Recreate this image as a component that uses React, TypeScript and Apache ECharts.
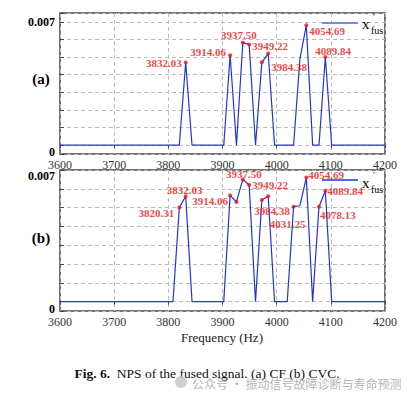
import React, { useEffect, useRef } from "react";
import * as echarts from "echarts";

// (a) CF
const freqA = [3600, 3820.31, 3832.03, 3843.75, 3902.34, 3914.06, 3925.78, 3937.5, 3949.22, 3960.94, 3972.66, 3984.38, 3996.09, 4031.25, 4042.97, 4054.69, 4066.41, 4078.13, 4089.84, 4101.56, 4200];
const npsA = [0, 0, 0.00469, 0, 0, 0.0051, 0, 0.00582, 0.00571, 0, 0.0047, 0.0052, 0, 0, 0.0049, 0.0068, 0, 0, 0.005, 0, 0];
const markedA = [3832.03, 3914.06, 3937.5, 3949.22, 3972.66, 3984.38, 4054.69, 4089.84];
const labeledA = [3832.03, 3914.06, 3937.5, 3949.22, 3984.38, 4054.69, 4089.84];

// (b) CVC
const freqB = [3600, 3808.59, 3820.31, 3832.03, 3843.75, 3902.34, 3914.06, 3925.78, 3937.5, 3949.22, 3960.94, 3972.66, 3984.38, 3996.09, 4019.53, 4031.25, 4042.97, 4054.69, 4066.41, 4078.13, 4089.84, 4101.56, 4200];
const npsB = [0, 0, 0.005, 0.0056, 0, 0, 0.00565, 0.0053, 0.0065, 0.0062, 0, 0.0054, 0.0056, 0, 0, 0.00505, 0.0051, 0.0066, 0, 0.00505, 0.0059, 0, 0];
const markedB = [3820.31, 3832.03, 3914.06, 3925.78, 3937.5, 3949.22, 3972.66, 3984.38, 4031.25, 4054.69, 4078.13, 4089.84];
const labeledB = [3820.31, 3832.03, 3914.06, 3937.5, 3949.22, 3984.38, 4031.25, 4054.69, 4078.13, 4089.84];

const yTopLabel = "0.007";
const yZeroLabel = "0";
const legendText = "x";
const caption = "NPS of the fused signal. (a) CF (b) CVC.";

// label layout (offset of text anchor from point, px) — styling only
const layoutA: Record<string, [number, number, string]> = {
  "3832.03": [-4, 0, "right"],
  "3914.06": [-4, -3, "right"],
  "3937.5": [-4, -8, "center"],
  "3949.22": [3, 1, "left"],
  "3984.38": [3, 13, "left"],
  "4054.69": [3, 6, "left"],
  "4089.84": [-10, -6, "left"],
};
const layoutB: Record<string, [number, number, string]> = {
  "3820.31": [-5, 5, "right"],
  "3832.03": [-1, -6, "center"],
  "3914.06": [-2, 6, "right"],
  "3937.5": [1, -5, "center"],
  "3949.22": [3, 0, "left"],
  "3984.38": [4, 15, "center"],
  "4031.25": [-6, 17, "center"],
  "4054.69": [2, -3, "left"],
  "4078.13": [1, 8, "left"],
  "4089.84": [2, 0, "left"],
};

const SERIF = "'Liberation Serif', 'DejaVu Serif', serif";
const BLUE = "#2233dd";
const RED = "#ee1111";

function pointsFor(freq: number[], nps: number[], marked: number[], labeled: number[], layout: Record<string, [number, number, string]>) {
  return marked.map((f) => {
    const i = freq.indexOf(f);
    const lay = layout[String(f)];
    const item: any = { value: [f, nps[i]] };
    if (labeled.indexOf(f) >= 0 && lay) {
      item.label = {
        show: true,
        position: [2 + lay[0], 2 + lay[1]],
        align: lay[2],
        verticalAlign: "middle",
        formatter: f.toFixed(2),
      };
    } else {
      item.label = { show: false };
    }
    return item;
  });
}

export default function App() {
  const ref = useRef<HTMLDivElement>(null);
  useEffect(() => {
    if (!ref.current) return;
    const chart = echarts.init(ref.current, undefined, { renderer: "svg" });
    const gridCommon = {
      show: true,
      borderColor: "#444",
      borderWidth: 1.5,
      backgroundColor: "#fff",
      containLabel: false,
    };
    const splitLine = { show: true, lineStyle: { color: "#bbb", type: [4, 3], width: 1 } };
    const xAxisCommon = {
      type: "value",
      min: 3600,
      max: 4200,
      interval: 100,
      axisLine: { show: false },
      axisTick: { show: true, inside: false, length: 3, lineStyle: { color: "#444" } },
      axisLabel: {
        color: "#333",
        fontFamily: SERIF,
        fontSize: 12,
        margin: 5,
        showMinLabel: true,
        showMaxLabel: true,
        formatter: (v: number) => String(v),
      },
      splitLine,
    };
    const yFmt = (bottom: boolean) => (v: number) => {
      if (v < -0.0004) return "{z|" + yZeroLabel + "}";
      if (Math.abs(v - 0.007) < 1e-7) return bottom ? "{t|" + yTopLabel + "}" : yTopLabel;
      return "";
    };
    const richBase = { fontFamily: SERIF, fontSize: 12, fontWeight: "bold", color: "#000" };
    const yAxisCommon = (max: number, bottom: boolean) => ({
      type: "value",
      min: -0.0005,
      max,
      splitNumber: 8,
      axisLine: { show: false },
      axisTick: { show: true, inside: true, length: 4, lineStyle: { color: "#444" } },
      axisLabel: {
        color: "#000",
        fontFamily: SERIF,
        fontSize: 12,
        fontWeight: "bold",
        margin: 5,
        showMinLabel: true,
        showMaxLabel: true,
        formatter: yFmt(bottom),
        rich: {
          t: { ...richBase, padding: [12, 0, 0, 0] },
          z: { ...richBase, padding: [0, 0, 4, 0] },
        },
      },
      splitLine,
    });
    const labelStyle = { color: RED, fontFamily: SERIF, fontSize: 11, fontWeight: "bold" };
    const textStyle = (extra: any) => ({ fontFamily: SERIF, fill: "#000", ...extra });

    chart.setOption({
      animation: false,
      backgroundColor: "#fff",
      grid: [
        { ...gridCommon, left: 60, width: 325, top: 13, height: 141 },
        { ...gridCommon, left: 60, width: 325, top: 170, height: 141 },
      ],
      xAxis: [
        { ...xAxisCommon, gridIndex: 0 },
        { ...xAxisCommon, gridIndex: 1 },
      ],
      yAxis: [
        { ...yAxisCommon(0.0075, false), gridIndex: 0 },
        { ...yAxisCommon(0.007, true), gridIndex: 1 },
      ],
      series: [
        {
          type: "line",
          xAxisIndex: 0,
          yAxisIndex: 0,
          data: freqA.map((f, i) => [f, npsA[i]]),
          showSymbol: false,
          lineStyle: { color: BLUE, width: 1.2 },
          z: 3,
        },
        {
          type: "scatter",
          xAxisIndex: 0,
          yAxisIndex: 0,
          symbolSize: 4,
          itemStyle: { color: RED },
          label: labelStyle,
          data: pointsFor(freqA, npsA, markedA, labeledA, layoutA),
          z: 4,
        },
        {
          type: "line",
          xAxisIndex: 1,
          yAxisIndex: 1,
          data: freqB.map((f, i) => [f, npsB[i]]),
          showSymbol: false,
          lineStyle: { color: BLUE, width: 1.2 },
          z: 3,
        },
        {
          type: "scatter",
          xAxisIndex: 1,
          yAxisIndex: 1,
          symbolSize: 4,
          itemStyle: { color: RED },
          label: labelStyle,
          data: pointsFor(freqB, npsB, markedB, labeledB, layoutB),
          z: 4,
        },
      ],
      graphic: [
        // legends
        { type: "line", shape: { x1: 322, y1: 23, x2: 358, y2: 23 }, style: { stroke: "#7f86e0", lineWidth: 2 }, z: 10 },
        { type: "text", x: 362, y: 24, style: textStyle({ text: legendText, fontSize: 15, textVerticalAlign: "middle" }), z: 10 },
        { type: "text", x: 373, y: 17, style: textStyle({ text: "'", fontSize: 9, textVerticalAlign: "middle" }), z: 10 },
        { type: "text", x: 371, y: 30, style: textStyle({ text: "fus", fontSize: 10, textVerticalAlign: "middle" }), z: 10 },
        { type: "line", shape: { x1: 322, y1: 180, x2: 358, y2: 180 }, style: { stroke: BLUE, lineWidth: 1.5 }, z: 10 },
        { type: "text", x: 362, y: 183, style: textStyle({ text: legendText, fontSize: 15, textVerticalAlign: "middle" }), z: 10 },
        { type: "text", x: 373, y: 175, style: textStyle({ text: "'", fontSize: 9, textVerticalAlign: "middle" }), z: 10 },
        { type: "text", x: 371, y: 189, style: textStyle({ text: "fus", fontSize: 10, textVerticalAlign: "middle" }), z: 10 },
        // panel labels
        { type: "text", x: 41, y: 79, style: textStyle({ text: "(a)", fontSize: 15, fontWeight: "bold", textAlign: "center", textVerticalAlign: "middle" }) },
        { type: "text", x: 41, y: 238, style: textStyle({ text: "(b)", fontSize: 15, fontWeight: "bold", textAlign: "center", textVerticalAlign: "middle" }) },
        // axis title
        { type: "text", x: 222, y: 337, style: textStyle({ text: "Frequency (Hz)", fontSize: 13, fill: "#222", textAlign: "center", textVerticalAlign: "middle" }) },
        // caption
        {
          type: "text",
          x: 207,
          y: 373,
          style: {
            text: "{b|Fig. 6.}{n|  " + caption + "}",
            textAlign: "center",
            textVerticalAlign: "middle",
            rich: {
              b: { fontFamily: SERIF, fontSize: 13.5, fontWeight: "bold", fill: "#111" },
              n: { fontFamily: SERIF, fontSize: 13.5, fill: "#111" },
            },
          },
        },
        // watermark
        { type: "circle", shape: { cx: 181, cy: 382, r: 6 }, style: { fill: "#c4c4c4", opacity: 0.8 }, z: 20 },
        { type: "text", x: 192, y: 383, style: { text: "公众号 · 振动信号故障诊断与寿命预测", fontFamily: "'Noto Sans CJK SC', sans-serif", fontSize: 12, fill: "#999", opacity: 0.75, textVerticalAlign: "middle" }, z: 20 },
      ],
    });
    return () => chart.dispose();
  }, []);
  return <div ref={ref} style={{ position: "fixed", left: 0, top: 0, width: 408, height: 394 }} />;
}
